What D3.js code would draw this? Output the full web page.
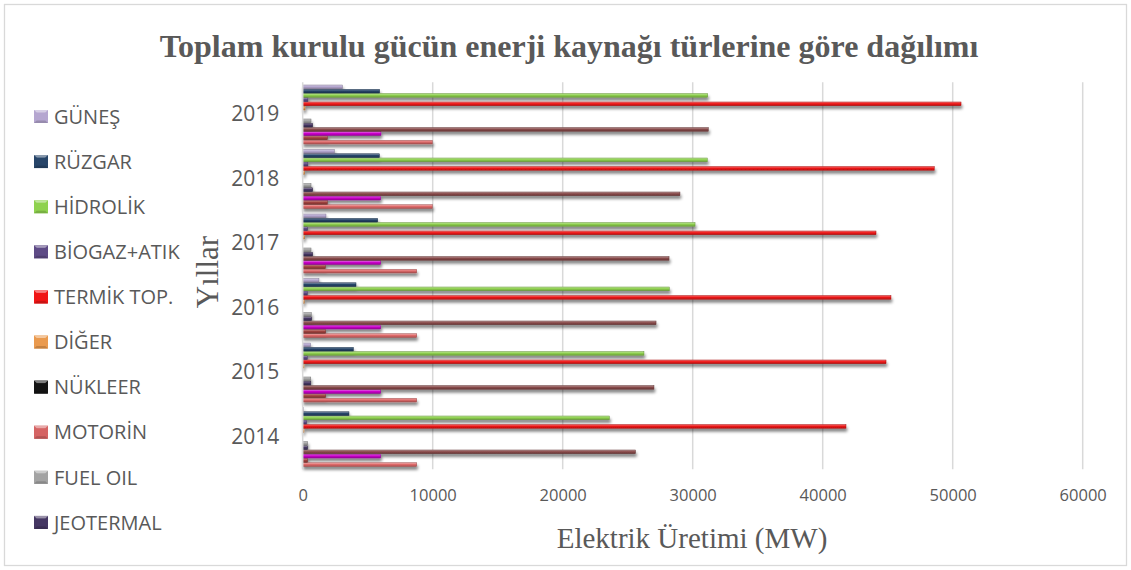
<!DOCTYPE html>
<html><head><meta charset="utf-8">
<script src="https://cdn.jsdelivr.net/npm/d3@7"></script>
<style>body{margin:0;background:#fff;} svg{display:block;}</style>
</head><body>
<svg id="chart" width="1131" height="570"></svg>
<script>
// ---------------- data ----------------
const years = ["2014", "2015", "2016", "2017", "2018", "2019"];
// series in Excel order (first series = lowest bar in each group)
const seriesNames = ["LİNYİT", "TAŞ KÖMÜRÜ", "İTHAL KÖMÜR", "DOĞALGAZ", "JEOTERMAL", "FUEL OIL",
  "MOTORİN", "NÜKLEER", "DİĞER", "TERMİK TOP.", "BİOGAZ+ATIK", "HİDROLİK", "RÜZGAR", "GÜNEŞ"];
const linyit     = [8770, 8770, 8770, 8770, 9970, 9970];
const tasKomuru  = [380, 1770, 1770, 1750, 1900, 1900];
const ithalKomur = [6000, 6000, 6000, 6000, 6000, 6020];
const dogalgaz   = [25600, 27020, 27180, 28180, 29020, 31200];
const jeotermal  = [380, 620, 690, 770, 770, 770];
const fuelOil    = [380, 620, 660, 640, 640, 640];
const motorin    = [0, 0, 0, 0, 0, 0];
const nukleer    = [0, 0, 0, 0, 0, 0];
const diger      = [100, 100, 120, 150, 150, 180];
const termik     = [41790, 44870, 45250, 44100, 48580, 50640];
const biogaz     = [300, 350, 360, 380, 400, 400];
const hidrolik   = [23590, 26250, 28200, 30180, 31120, 31150];
const ruzgar     = [3560, 3900, 4100, 5770, 5900, 5920];
const gunes      = [40, 600, 1250, 1790, 2430, 3050];
const seriesValues = [linyit, tasKomuru, ithalKomur, dogalgaz, jeotermal, fuelOil,
  motorin, nukleer, diger, termik, biogaz, hidrolik, ruzgar, gunes];
const seriesColors = ["#e06a6a", "#a3443f", "#cc00cc", "#8a4b4b", "#453763", "#a3a3a3",
  "#d56464", "#141414", "#ea9a4e", "#f01515", "#5e4b86", "#8fd24f", "#274569", "#b5a6d0"];
const legendCount = 10; // legend shows only the last 10 series (truncated, as in the original)
const xTicks = [0, 10000, 20000, 30000, 40000, 50000, 60000];
const titleText = "Toplam kurulu gücün enerji kaynağı türlerine göre dağılımı";
const xTitle = "Elektrik Üretimi (MW)";
const yTitle = "Yıllar";

// ---------------- chart ----------------
const svg = d3.select("#chart");
const W = 1131, H = 570;
const textColor = "#595959";
const sans = "'Open Sans', 'DejaVu Sans', sans-serif";
const serif = "'Liberation Serif', 'Times New Roman', serif";

svg.append("rect").attr("x", 4.5).attr("y", 4.5).attr("width", W - 9).attr("height", H - 9)
  .attr("fill", "#fff").attr("stroke", "#d9d9d9").attr("stroke-width", 1.3);

const defs = svg.append("defs");
const f = defs.append("filter").attr("id", "shadow").attr("filterUnits", "userSpaceOnUse")
  .attr("x", 0).attr("y", 0).attr("width", W).attr("height", H);
f.append("feGaussianBlur").attr("in", "SourceAlpha").attr("stdDeviation", 1.4);
f.append("feOffset").attr("dx", 1).attr("dy", 2.5).attr("result", "ob");
f.append("feComponentTransfer").append("feFuncA").attr("type", "linear").attr("slope", 0.5);
const fm = f.append("feMerge");
fm.append("feMergeNode");
fm.append("feMergeNode").attr("in", "SourceGraphic");

seriesColors.forEach((c, i) => {
  const g = defs.append("linearGradient").attr("id", "grad" + i)
    .attr("x1", 0).attr("y1", 0).attr("x2", 0).attr("y2", 1);
  g.append("stop").attr("offset", "0%").attr("stop-color", d3.interpolateRgb(c, "#ffffff")(0.45));
  g.append("stop").attr("offset", "45%").attr("stop-color", c);
  g.append("stop").attr("offset", "100%").attr("stop-color", d3.color(c).darker(0.8).formatHex());
});

const plot = { left: 302.7, right: 1082.7, top: 82.25, bottom: 469.25 };
const x = d3.scaleLinear().domain([0, 60000]).range([plot.left, plot.right]);
const y0 = d3.scaleBand().domain(years.slice().reverse()).range([plot.top, plot.bottom])
  .paddingInner(0.07).paddingOuter(0.035);
const y1 = d3.scaleBand().domain(seriesNames.slice().reverse()).range([0, y0.bandwidth()])
  .padding(0.12);

// gridlines
svg.append("g").selectAll("line").data(xTicks.filter(t => t > 0)).join("line")
  .attr("x1", d => x(d)).attr("x2", d => x(d))
  .attr("y1", plot.top).attr("y2", plot.bottom)
  .attr("stroke", "#d9d9d9").attr("stroke-width", 1.5);

// bars
const barG = svg.append("g").attr("filter", "url(#shadow)");
seriesNames.forEach((name, si) => {
  const data = years.map((yr, i) => ({ yr, v: seriesValues[si][i] }));
  barG.append("g").selectAll("rect").data(data.filter(d => d.v > 0)).join("rect")
    .attr("x", x(0))
    .attr("y", d => y0(d.yr) + y1(name))
    .attr("width", d => x(d.v) - x(0))
    .attr("height", y1.bandwidth())
    .attr("fill", `url(#grad${si})`)
    .attr("stroke", d3.color(seriesColors[si]).darker(1).formatHex())
    .attr("stroke-width", 0.5);
});

// category axis line
svg.append("line").attr("x1", plot.left).attr("x2", plot.left)
  .attr("y1", plot.top).attr("y2", plot.bottom)
  .attr("stroke", "#d9d9d9").attr("stroke-width", 1.5);

// y axis labels
const yAxis = svg.append("g").attr("transform", `translate(${plot.left},0)`)
  .call(d3.axisLeft(y0).tickSize(0).tickPadding(23.5));
yAxis.select(".domain").remove();
yAxis.selectAll("text").attr("fill", textColor).style("font-family", sans).style("font-size", "21px");

// x axis labels
const xAxis = svg.append("g").attr("transform", `translate(0,${plot.bottom})`)
  .call(d3.axisBottom(x).tickValues(xTicks).tickFormat(d3.format("d")).tickSize(0).tickPadding(20));
xAxis.select(".domain").remove();
xAxis.selectAll("text").attr("fill", textColor).style("font-family", sans).style("font-size", "16.5px");

// title
svg.append("text").attr("x", 569).attr("y", 57).attr("text-anchor", "middle")
  .attr("fill", textColor).style("font-family", serif).style("font-weight", "bold")
  .style("font-size", "32px").text(titleText);

// axis titles
svg.append("text").attr("x", 692).attr("y", 548).attr("text-anchor", "middle")
  .attr("fill", textColor).style("font-family", serif).style("font-size", "29px").text(xTitle);
svg.append("text").attr("transform", "translate(218,272) rotate(-90)").attr("text-anchor", "middle")
  .attr("fill", textColor).style("font-family", serif).style("font-size", "31px").text(yTitle);

// legend
const legendItems = seriesNames.map((n, i) => ({ n, i })).slice(seriesNames.length - legendCount).reverse();
const lg = svg.append("g");
const lgItem = lg.selectAll("g").data(legendItems).join("g")
  .attr("transform", (d, k) => `translate(34,${116.5 + k * 45.1})`);
const mw = 14, mh = 13;
lgItem.append("rect").attr("x", 0).attr("y", -mh / 2).attr("width", mw).attr("height", mh)
  .attr("fill", d => seriesColors[d.i]);
lgItem.append("path")
  .attr("d", `M0,${-mh / 2} L${mw},${-mh / 2} L${mw / 2},0 Z`)
  .attr("fill", d => d3.interpolateRgb(seriesColors[d.i], "#ffffff")(0.45));
lgItem.append("path")
  .attr("d", `M0,${mh / 2} L${mw},${mh / 2} L${mw / 2},0 Z`)
  .attr("fill", d => d3.color(seriesColors[d.i]).darker(0.5).formatHex());
lgItem.append("rect").attr("x", 2.5).attr("y", -mh / 2 + 2.5).attr("width", mw - 5).attr("height", mh - 5)
  .attr("fill", d => seriesColors[d.i]);
lgItem.append("text").attr("x", 20).attr("y", 0).attr("dy", "0.36em")
  .attr("fill", textColor).style("font-family", sans).style("font-size", "20px").text(d => d.n);
</script>
</body></html>
